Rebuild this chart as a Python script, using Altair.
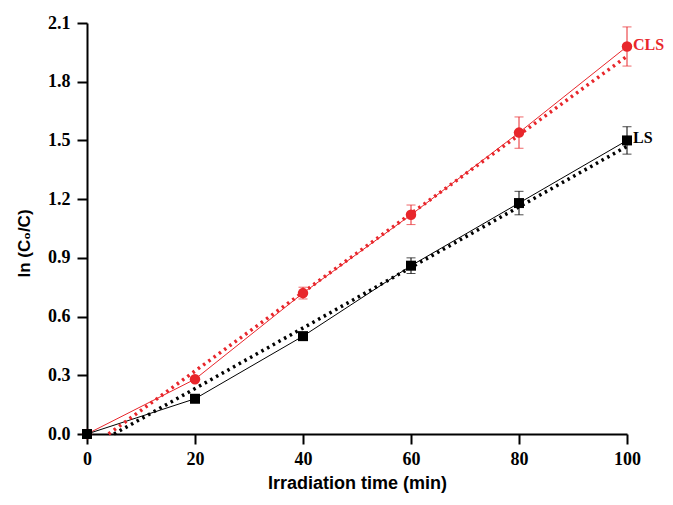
import altair as alt
import pandas as pd

# data
times = [0, 20, 40, 60, 80, 100]
cls_vals = [0.0, 0.28, 0.72, 1.12, 1.54, 1.98]
cls_err = [0.0, 0.0, 0.03, 0.05, 0.08, 0.10]
ls_vals = [0.0, 0.18, 0.50, 0.86, 1.18, 1.50]
ls_err = [0.0, 0.0, 0.0, 0.04, 0.06, 0.07]

fit_x_cls = [4, 100]
fit_y_cls = [0.0, 1.93]
fit_x_ls = [5, 100]
fit_y_ls = [0.0, 1.47]

label_names = ["CLS", "LS"]
label_y = [1.99, 1.51]

RED = "#e8262b"
BLACK = "#000000"

rows = []
for s, vals, errs in [("CLS", cls_vals, cls_err), ("LS", ls_vals, ls_err)]:
    for t, v, e in zip(times, vals, errs):
        rows.append({"series": s, "t": t, "v": v, "lo": v - e, "hi": v + e, "err": e})
df = pd.DataFrame(rows)

fit_rows = []
for s, fx, fy in [("CLS", fit_x_cls, fit_y_cls), ("LS", fit_x_ls, fit_y_ls)]:
    for x, y in zip(fx, fy):
        fit_rows.append({"series": s, "t": x, "v": y})
fdf = pd.DataFrame(fit_rows)

ldf = pd.DataFrame({"series": label_names, "t": [100, 100], "v": label_y})

color = alt.Color("series:N", scale=alt.Scale(domain=["CLS", "LS"], range=[RED, BLACK]), legend=None)

xs = alt.Scale(domain=[0, 100], nice=False, zero=False)
ys = alt.Scale(domain=[0, 2.1], nice=False, zero=False)

xaxis = alt.Axis(values=[0, 20, 40, 60, 80, 100], title="Irradiation time (min)", grid=False,
                 labelFont="Liberation Serif", labelFontWeight="bold", labelFontSize=18,
                 titleFont="Liberation Sans", titleFontWeight="bold", titleFontSize=18,
                 tickSize=10, tickWidth=2, domainWidth=2, domainColor="black", tickColor="black",
                 labelColor="black", titleColor="black", labelPadding=6, titlePadding=6,
                 labelFlush=False)
yaxis = alt.Axis(values=[0, 0.3, 0.6, 0.9, 1.2, 1.5, 1.8, 2.1], format=".1f", title="ln (C₀/C)", grid=False,
                 labelFont="Liberation Serif", labelFontWeight="bold", labelFontSize=18,
                 titleFont="Liberation Sans", titleFontWeight="bold", titleFontSize=17,
                 tickSize=10, tickWidth=2, domainWidth=2, domainColor="black", tickColor="black",
                 labelColor="black", titleColor="black", labelPadding=7,
                 titleX=-63, titleY=220, titleAngle=270, titleAlign="center", titleBaseline="middle",
                 labelFlush=False)

base = alt.Chart(df)

lines = base.mark_line(strokeWidth=1).encode(
    x=alt.X("t:Q", scale=xs, axis=xaxis),
    y=alt.Y("v:Q", scale=ys, axis=yaxis),
    color=color,
    detail="series:N",
)

fits = alt.Chart(fdf).mark_line(strokeWidth=3.5, strokeDash=[2.5, 4]).encode(
    x=alt.X("t:Q", scale=xs),
    y=alt.Y("v:Q", scale=ys),
    color=color,
    detail="series:N",
)

ebdf = base.transform_filter(alt.datum.err > 0)
err_rule = ebdf.mark_rule(strokeWidth=1).encode(
    x=alt.X("t:Q", scale=xs), y=alt.Y("lo:Q", scale=ys), y2="hi:Q", color=color)
cap_lo = ebdf.mark_tick(thickness=1, size=9, orient="horizontal").encode(
    x=alt.X("t:Q", scale=xs), y=alt.Y("lo:Q", scale=ys), color=color)
cap_hi = ebdf.mark_tick(thickness=1, size=9, orient="horizontal").encode(
    x=alt.X("t:Q", scale=xs), y=alt.Y("hi:Q", scale=ys), color=color)

circles = base.transform_filter(alt.datum.series == "CLS").mark_point(
    shape="circle", filled=True, size=110, opacity=1).encode(
    x=alt.X("t:Q", scale=xs), y=alt.Y("v:Q", scale=ys), color=color)
squares = base.transform_filter(alt.datum.series == "LS").mark_point(
    shape="square", filled=True, size=100, opacity=1).encode(
    x=alt.X("t:Q", scale=xs), y=alt.Y("v:Q", scale=ys), color=color)

labels = alt.Chart(ldf).mark_text(align="left", baseline="middle", dx=6,
                                   font="Liberation Serif", fontWeight="bold", fontSize=16).encode(
    x=alt.X("t:Q", scale=xs), y=alt.Y("v:Q", scale=ys), text="series:N", color=color)

chart = alt.layer(lines, fits, err_rule, cap_lo, cap_hi, circles, squares, labels).properties(
    width=540, height=411,
    background="white",
    autosize=alt.AutoSizeParams(type="none"),
    padding={"left": 79, "top": 15, "right": 38, "bottom": 63},
).configure_view(stroke="transparent", strokeWidth=0).configure_axis(grid=False)

chart.save("out.html", embed_options={"renderer": "svg", "actions": False})
